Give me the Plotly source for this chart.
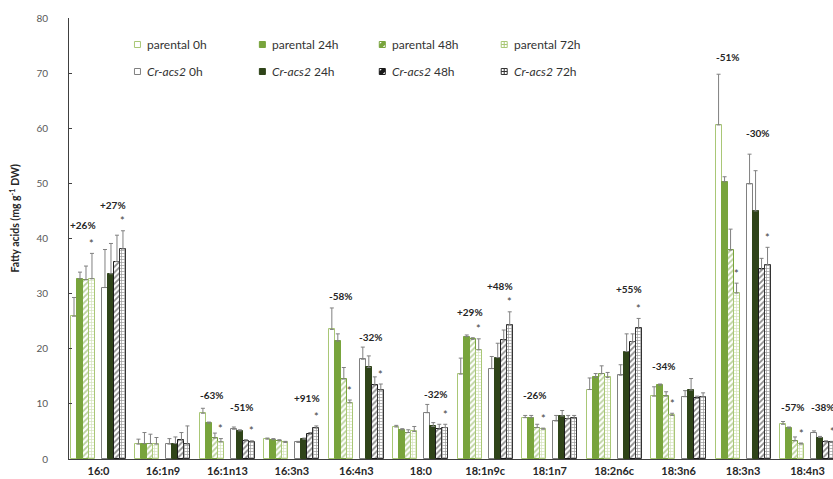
import plotly.graph_objects as go

# Fatty acid species on the x axis
categories = ["16:0", "16:1n9", "16:1n13", "16:3n3", "16:4n3", "18:0",
              "18:1n9c", "18:1n7", "18:2n6c", "18:3n6", "18:3n3", "18:4n3"]

# Mean contents (mg g-1 DW) and standard deviations per strain / time point
parental_0h = [25.9, 2.7, 8.3, 3.6, 23.5, 5.8, 15.4, 7.5, 12.6, 11.4, 60.6, 6.3]
parental_0h_sd = [3.4, 0.9, 0.9, 0.2, 3.9, 0.3, 2.9, 0.4, 2.1, 1.7, 9.2, 0.5]
parental_24h = [32.7, 2.8, 6.5, 3.5, 21.4, 5.3, 22.2, 7.5, 14.8, 13.4, 50.3, 5.6]
parental_24h_sd = [1.2, 2.0, 0.2, 0.2, 1.3, 0.2, 0.3, 0.4, 0.7, 0.2, 0.9, 0.2]
parental_48h = [32.5, 2.8, 3.8, 3.3, 14.5, 4.8, 21.7, 5.7, 15.5, 11.4, 37.9, 3.3]
parental_48h_sd = [2.5, 1.7, 0.9, 0.2, 2.1, 0.5, 0.3, 0.6, 1.4, 0.8, 3.8, 0.7]
parental_72h = [32.7, 2.7, 3.1, 3.0, 10.2, 5.0, 19.8, 5.4, 14.8, 7.9, 30.1, 2.7]
parental_72h_sd = [4.6, 1.2, 0.6, 0.2, 0.5, 0.9, 2.0, 0.2, 0.9, 0.4, 1.8, 0.2]
cracs2_0h = [31.1, 2.7, 5.4, 3.0, 18.1, 8.4, 16.4, 6.9, 15.2, 11.3, 49.9, 4.8]
cracs2_0h_sd = [6.9, 1.0, 0.4, 0.2, 2.2, 1.5, 2.2, 1.0, 1.9, 1.1, 5.4, 0.3]
cracs2_24h = [33.6, 2.8, 5.1, 3.6, 16.6, 5.9, 18.4, 7.8, 19.5, 12.5, 45.0, 3.9]
cracs2_24h_sd = [5.5, 1.2, 0.2, 0.2, 2.1, 0.7, 2.6, 1.0, 3.2, 2.1, 7.3, 0.2]
cracs2_48h = [35.8, 3.4, 3.3, 4.5, 13.4, 5.4, 21.6, 7.3, 21.3, 11.0, 34.4, 3.1]
cracs2_48h_sd = [4.8, 1.4, 0.2, 0.3, 1.5, 0.9, 1.8, 0.6, 1.4, 0.4, 2.0, 0.2]
cracs2_72h = [38.1, 2.7, 3.1, 5.6, 12.5, 5.7, 24.3, 7.4, 23.7, 11.3, 35.2, 3.0]
cracs2_72h_sd = [3.3, 3.3, 0.2, 0.4, 1.1, 0.6, 2.4, 0.5, 1.8, 0.7, 3.2, 0.2]

# Significant 72 h vs 0 h differences (1 = asterisk)
parental_72h_sig = [1, 0, 1, 0, 1, 0, 1, 1, 0, 1, 1, 1]
cracs2_72h_sig = [1, 0, 1, 1, 1, 1, 1, 0, 1, 0, 1, 1]

# Percentage change labels: (category, strain side, text, height)
change_labels = [
    ("16:0", "parental", "+26%", 42.4), ("16:0", "cracs2", "+27%", 46.1),
    ("16:1n13", "parental", "-63%", 11.6), ("16:1n13", "cracs2", "-51%", 9.4),
    ("16:3n3", "cracs2", "+91%", 11.0),
    ("16:4n3", "parental", "-58%", 29.6), ("16:4n3", "cracs2", "-32%", 22.2),
    ("18:0", "cracs2", "-32%", 11.8),
    ("18:1n9c", "parental", "+29%", 26.7), ("18:1n9c", "cracs2", "+48%", 31.4),
    ("18:1n7", "parental", "-26%", 11.6),
    ("18:2n6c", "cracs2", "+55%", 30.8),
    ("18:3n6", "parental", "-34%", 16.9),
    ("18:3n3", "parental", "-51%", 72.9), ("18:3n3", "cracs2", "-30%", 59.2),
    ("18:4n3", "parental", "-57%", 9.4), ("18:4n3", "cracs2", "-38%", 9.4),
]

GREEN = "#78a43c"
LIGHT = "#a9c776"
DARK = "#2f4419"
GREY = "#808080"
FONT = "Lato"

# Figure geometry (pixels)
W, H = 833, 479
ML, MR, MT, MB = 68.5, 0, 18, 20
PW, PH = W - ML - MR, H - MT - MB
CAT_PX = 64.5           # pixels per category
BAR = 6.0 / CAT_PX      # bar width in category units
bar_px_offsets = [-24.5, -18.5, -12.5, -6.5, 6.5, 12.5, 18.5, 24.5]
offsets = [p / CAT_PX for p in bar_px_offsets]
side_offset = {"parental": -15.0 / CAT_PX, "cracs2": 15.0 / CAT_PX}

series = [
    ("parental 0h", parental_0h, parental_0h_sd,
     dict(color="white", line=dict(color=LIGHT, width=1))),
    ("parental 24h", parental_24h, parental_24h_sd,
     dict(color=GREEN, line=dict(color=GREEN, width=1))),
    ("parental 48h", parental_48h, parental_48h_sd,
     dict(color="white", line=dict(color=GREEN, width=1),
          pattern=dict(shape="/", fgcolor=GREEN, bgcolor="white", size=4, solidity=0.45))),
    ("parental 72h", parental_72h, parental_72h_sd,
     dict(color="white", line=dict(color=LIGHT, width=1),
          pattern=dict(shape="+", fgcolor=LIGHT, bgcolor="white", size=3, solidity=0.4))),
    ("Cr-acs2 0h", cracs2_0h, cracs2_0h_sd,
     dict(color="white", line=dict(color=GREY, width=1))),
    ("Cr-acs2 24h", cracs2_24h, cracs2_24h_sd,
     dict(color=DARK, line=dict(color=DARK, width=1))),
    ("Cr-acs2 48h", cracs2_48h, cracs2_48h_sd,
     dict(color="white", line=dict(color="#1a1a1a", width=1),
          pattern=dict(shape="/", fgcolor="#1a1a1a", bgcolor="white", size=4, solidity=0.45))),
    ("Cr-acs2 72h", cracs2_72h, cracs2_72h_sd,
     dict(color="white", line=dict(color="#333333", width=1),
          pattern=dict(shape="+", fgcolor="#333333", bgcolor="white", size=3, solidity=0.4))),
]

fig = go.Figure()
idx = list(range(len(categories)))
for k, (name, vals, sd, marker) in enumerate(series):
    fig.add_trace(go.Bar(
        x=[i + offsets[k] for i in idx], y=vals, width=BAR, name=name,
        marker=marker, showlegend=False,
        error_y=dict(type="data", array=sd, arrayminus=[0] * len(sd), symmetric=False,
                     color=GREY, thickness=1, width=2),
    ))

annotations = []

# Asterisks above the 72 h bars
for vals, sd, sig, k in [(parental_72h, parental_72h_sd, parental_72h_sig, 3),
                         (cracs2_72h, cracs2_72h_sd, cracs2_72h_sig, 7)]:
    for i in idx:
        if sig[i]:
            annotations.append(dict(
                x=i + offsets[k], y=vals[i] + sd[i] + 1.8, text="*", showarrow=False,
                xanchor="center", yanchor="middle",
                font=dict(family=FONT, size=11, color="#404040")))

# Percentage change labels
for cat, side, txt, yv in change_labels:
    annotations.append(dict(
        x=categories.index(cat) + side_offset[side], y=yv, text=txt, showarrow=False,
        xanchor="center", yanchor="middle",
        font=dict(family=FONT, size=10, color="#262626", weight="bold")))

# Y axis title
annotations.append(dict(
    xref="paper", yref="paper", x=(13 - ML) / PW, y=(MT + PH - 218) / PH,
    text="Fatty acids (mg g<sup>-1</sup> DW)", textangle=-90, showarrow=False,
    xanchor="center", yanchor="middle",
    font=dict(family=FONT, size=10.5, color="#262626", weight="bold")))

# Legend (two rows of four entries)
def px_x(px):
    return (px - ML) / PW


def px_y(py):
    return (MT + PH - py) / PH


legend_cols = [145, 270, 390, 512]
legend_rows = [44.5, 71.5]
legend_text = ["parental 0h", "parental 24h", "parental 48h", "parental 72h",
               "<i>Cr-acs2</i> 0h", "<i>Cr-acs2</i> 24h", "<i>Cr-acs2</i> 48h", "<i>Cr-acs2</i> 72h"]
shapes = []
for k in range(8):
    r, c = divmod(k, 4)
    tx, ty = legend_cols[c], legend_rows[r]
    annotations.append(dict(
        xref="paper", yref="paper", x=px_x(tx), y=px_y(ty), text=legend_text[k],
        showarrow=False, xanchor="left", yanchor="middle",
        font=dict(family=FONT, size=12, color="#333333")))
    m = series[k][3]
    cx, cy = px_x(tx - 8), px_y(ty)
    fill = m["color"]
    edge = m["line"]["color"]
    shapes.append(dict(
        type="rect", xref="paper", yref="paper", xsizemode="pixel", ysizemode="pixel",
        xanchor=cx, yanchor=cy, x0=-3, x1=3, y0=-3, y1=3,
        fillcolor=fill, line=dict(color=edge, width=1)))
    pat = m.get("pattern")
    if pat is not None:
        if pat["shape"] == "/":
            shapes.append(dict(
                type="path", xref="paper", yref="paper", xsizemode="pixel", ysizemode="pixel",
                xanchor=cx, yanchor=cy, path="M-3,-3 L-3,0 L0,3 L3,3 L3,0 L0,-3 Z",
                fillcolor=pat["fgcolor"], line=dict(width=0)))
        else:
            for path in ("M-3,0 L3,0", "M0,-3 L0,3"):
                shapes.append(dict(
                    type="path", xref="paper", yref="paper", xsizemode="pixel",
                    ysizemode="pixel", xanchor=cx, yanchor=cy, path=path,
                    line=dict(color=pat["fgcolor"], width=1)))

fig.update_layout(
    width=W, height=H, margin=dict(l=ML, r=MR, t=MT, b=MB),
    paper_bgcolor="white", plot_bgcolor="white",
    barmode="overlay", bargap=0, showlegend=False,
    annotations=annotations, shapes=shapes,
    xaxis=dict(range=[-(98 - ML) / CAT_PX, (W - 98) / CAT_PX],
               tickmode="array", tickvals=idx, ticktext=categories,
               showline=True, linecolor="#404040", linewidth=1, ticks="",
               showgrid=False, zeroline=False, ticklabelstandoff=2,
               tickfont=dict(family=FONT, size=11, color="#262626", weight="bold")),
    yaxis=dict(range=[0, 80], tickvals=[0, 10, 20, 30, 40, 50, 60, 70, 80],
               showline=True, linecolor="#404040", linewidth=1,
               ticks="inside", ticklen=3, tickcolor="#404040",
               showgrid=False, zeroline=False, ticklabelstandoff=18,
               tickfont=dict(family=FONT, size=10, color="#595959")),
)

fig.write_html("out.html")
